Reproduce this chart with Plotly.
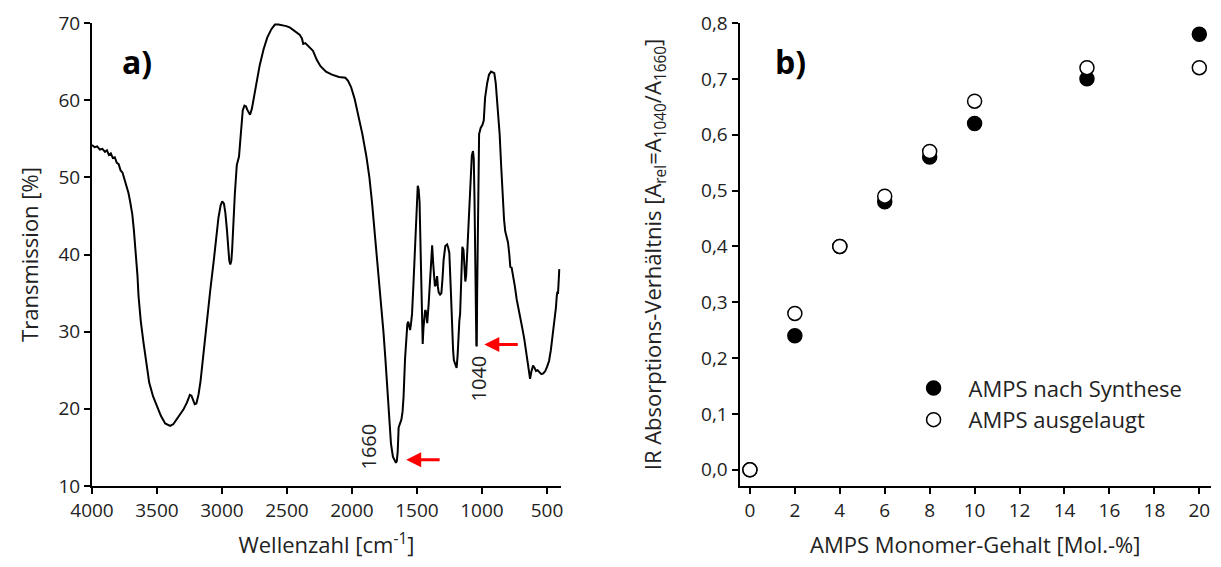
import plotly.graph_objects as go

# ---------------- data: panel a) IR spectrum ----------------
wavenumber = [4000, 3980, 3960, 3940, 3920, 3900, 3885, 3870, 3855, 3840, 3825, 3810, 3795,
              3780, 3765, 3751, 3735, 3720, 3707, 3690, 3678, 3663, 3650, 3642, 3625, 3604,
              3580, 3560, 3530, 3502, 3470, 3437, 3418, 3399, 3375, 3355, 3325, 3297, 3270,
              3247, 3235, 3223, 3210, 3197, 3180, 3165, 3140, 3121, 3090, 3062, 3040, 3027,
              3010, 2998, 2985, 2974, 2962, 2954, 2944, 2936, 2928, 2922, 2912, 2901, 2886,
              2875, 2869, 2860, 2851, 2840, 2827, 2815, 2807, 2795, 2784, 2770, 2755, 2730,
              2710, 2680, 2652, 2620, 2593, 2565, 2535, 2505, 2476, 2440, 2403, 2385, 2375,
              2359, 2330, 2300, 2270, 2242, 2200, 2154, 2100, 2051, 2030, 2007, 1980, 1949,
              1920, 1890, 1866, 1846, 1823, 1802, 1780, 1758, 1743, 1729, 1714, 1700, 1685,
              1670, 1662, 1655, 1648, 1641, 1630, 1620, 1611, 1603, 1592, 1582, 1574, 1567,
              1560, 1553, 1546, 1538, 1527, 1515, 1504, 1494, 1487, 1480, 1472, 1465, 1460,
              1456, 1450, 1444, 1438, 1433, 1427, 1421, 1410, 1400, 1392, 1383, 1375, 1368,
              1362, 1356, 1350, 1345, 1339, 1333, 1322, 1312, 1303, 1295, 1282, 1268, 1260,
              1251, 1240, 1231, 1222, 1216, 1205, 1195, 1187, 1180, 1174, 1168, 1160, 1151,
              1142, 1133, 1128, 1122, 1113, 1104, 1095, 1087, 1078, 1069, 1063, 1057, 1052,
              1048, 1043, 1040, 1037, 1030, 1022, 1010, 996, 986, 976, 960, 946, 930, 917,
              905, 894, 880, 864, 852, 841, 830, 821, 810, 800, 790, 782, 772, 762, 748, 733,
              710, 689, 674, 659, 645, 630, 620, 612, 607, 595, 585, 572, 558, 543, 528, 513,
              498, 484, 470, 455, 443, 431, 425, 420, 415, 410, 405]
transmission = [54.2, 53.9, 54.0, 53.6, 53.7, 53.3, 53.5, 52.9, 53.1, 52.5, 52.6, 51.9, 51.7,
                50.9, 50.6, 49.8, 49.0, 48.0, 46.9, 45.2, 43.2, 40.4, 37.2, 34.6, 31.4, 28.6,
                25.4, 23.4, 21.6, 20.5, 19.1, 18.1, 17.9, 17.8, 18.0, 18.5, 19.1, 19.9, 20.8,
                21.8, 21.7, 21.1, 20.6, 20.7, 21.9, 23.6, 27.6, 31.0, 35.4, 39.4, 42.6, 44.8,
                46.4, 46.9, 46.6, 45.4, 43.2, 40.9, 39.2, 38.7, 39.2, 40.6, 44.4, 47.9, 51.6,
                52.5, 52.7, 54.6, 57.0, 58.7, 59.3, 59.2, 58.8, 58.3, 58.1, 58.9, 60.3, 62.6,
                64.5, 66.6, 68.1, 69.2, 69.8, 69.8, 69.7, 69.6, 69.4, 69.0, 68.5, 68.0, 67.3,
                67.4, 66.9, 66.4, 65.2, 64.4, 63.7, 63.3, 63.0, 62.9, 62.5, 61.7, 60.2, 58.0,
                55.6, 52.8, 50.0, 46.8, 42.6, 38.4, 34.2, 30.0, 26.5, 23.0, 19.0, 15.5, 13.8,
                13.1, 13.0, 13.2, 14.5, 17.6, 18.3, 18.6, 19.6, 21.6, 26.4, 30.0, 31.0, 31.3,
                30.6, 30.2, 31.0, 32.3, 36.2, 41.2, 46.0, 48.9, 48.4, 46.8, 40.6, 35.6, 31.0,
                28.4, 30.5, 32.5, 32.7, 32.8, 31.8, 31.1, 33.6, 36.5, 39.2, 41.2, 38.8, 37.0,
                35.9, 36.0, 37.1, 37.2, 35.8, 35.1, 34.8, 35.0, 37.0, 39.3, 41.1, 41.3, 40.9,
                40.2, 35.6, 30.9, 27.6, 26.3, 25.8, 25.3, 27.0, 30.0, 31.4, 32.3, 37.2, 41.0,
                40.6, 38.4, 36.5, 37.2, 40.5, 44.0, 47.2, 50.0, 52.8, 53.4, 52.4, 46.8, 40.0,
                32.0, 28.1, 28.2, 35.0, 48.0, 55.6, 56.4, 56.8, 57.4, 60.3, 62.2, 63.3, 63.7,
                63.6, 63.5, 62.2, 59.5, 55.6, 51.4, 47.2, 44.5, 43.0, 42.2, 41.6, 40.1, 38.4,
                38.3, 37.5, 36.0, 34.2, 32.4, 30.4, 29.0, 27.2, 25.5, 23.9, 24.8, 25.4, 25.6,
                25.3, 24.9, 25.0, 24.7, 24.5, 24.6, 24.9, 25.5, 26.2, 27.6, 29.5, 31.0, 33.1,
                34.5, 35.2, 34.9, 36.5, 38.1]

# annotation points (wavenumber, transmission)
peak_labels = ["1660", "1040"]
peak_label_wn = [1870, 1025]
peak_label_t = [15.1, 23.9]
arrow_head_wn = [1583, 982]
arrow_tail_wn = [1314, 713]
arrow_t = [13.4, 28.35]

ticks_a_x = [4000, 3500, 3000, 2500, 2000, 1500, 1000, 500]
ticks_a_y = [10, 20, 30, 40, 50, 60, 70]

# ---------------- data: panel b) absorption ratio ----------------
amps_content = [0, 2, 4, 6, 8, 10, 15, 20]
ratio_synthesis = [0.0, 0.24, 0.40, 0.48, 0.56, 0.62, 0.70, 0.78]
ratio_leached = [0.0, 0.28, 0.40, 0.49, 0.57, 0.66, 0.72, 0.72]
ticks_b_x = [0, 2, 4, 6, 8, 10, 12, 14, 16, 18, 20]
ticks_b_y = [0.0, 0.1, 0.2, 0.3, 0.4, 0.5, 0.6, 0.7, 0.8]

FONT = "Open Sans"
TXT = "#222222"

fig = go.Figure()
fig.add_trace(go.Scatter(x=wavenumber, y=transmission, mode="lines",
                         line=dict(color="black", width=2), showlegend=False,
                         xaxis="x", yaxis="y"))
fig.add_trace(go.Scatter(x=amps_content, y=ratio_synthesis, mode="markers",
                         name="AMPS nach Synthese",
                         marker=dict(symbol="circle", size=14, color="black",
                                     line=dict(color="black", width=1.5)),
                         xaxis="x2", yaxis="y2"))
fig.add_trace(go.Scatter(x=amps_content, y=ratio_leached, mode="markers",
                         name="AMPS ausgelaugt",
                         marker=dict(symbol="circle", size=14, color="white",
                                     line=dict(color="black", width=1.5)),
                         xaxis="x2", yaxis="y2"))

axis_common = dict(showline=True, linecolor="black", linewidth=2, ticks="outside",
                   ticklen=6, tickwidth=1.5, tickcolor="black", showgrid=False,
                   zeroline=False, tickfont=dict(family=FONT, size=19, color=TXT),
                   title_font=dict(family=FONT, size=22, color=TXT))

fig.update_layout(
    width=1205, height=551,
    margin=dict(l=84, r=0, t=15, b=72),
    paper_bgcolor="white", plot_bgcolor="white",
    separators=", ",
    font=dict(family=FONT, color=TXT),
    xaxis=dict(domain=[0, 0.419], range=[4000, 393], tickvals=ticks_a_x,
               title=dict(text="Wellenzahl [cm<sup>-1</sup>]", standoff=21), **axis_common),
    yaxis=dict(domain=[0, 1], range=[10, 70], tickvals=ticks_a_y, anchor="x",
               title=dict(text="Transmission [%]", standoff=14), **axis_common),
    xaxis2=dict(domain=[0.5787, 1], range=[-0.46, 20.52], tickvals=ticks_b_x, anchor="y2",
                title=dict(text="AMPS Monomer-Gehalt [Mol.-%]", standoff=21), **axis_common),
    yaxis2=dict(domain=[0, 1], range=[-0.029, 0.8], tickvals=ticks_b_y, tickformat=".1f",
                anchor="x2",
                title=dict(text="IR Absorptions-Verhältnis [A<sub>rel</sub>=A<sub>1040</sub>/A<sub>1660</sub>]",
                           standoff=33), **axis_common),
    legend=dict(x=0.7208, y=0.2565, xanchor="left", yanchor="top", itemwidth=60,
                font=dict(family=FONT, size=22, color=TXT), bgcolor="rgba(0,0,0,0)"),
)

# panel letters
fig.add_annotation(text="<b>a)</b>", xref="paper", yref="paper", x=0.0401, y=0.916,
                   xanchor="center", yanchor="middle",
                   showarrow=False, font=dict(family=FONT, size=32, color="black"))
fig.add_annotation(text="<b>b)</b>", xref="paper", yref="paper", x=0.6245, y=0.916,
                   xanchor="center", yanchor="middle",
                   showarrow=False, font=dict(family=FONT, size=32, color="black"))

# peak labels and red arrows
for lab, lx, ly, hx, tx, ay in zip(peak_labels, peak_label_wn, peak_label_t,
                                   arrow_head_wn, arrow_tail_wn, arrow_t):
    fig.add_annotation(text=lab, x=lx, y=ly, xref="x", yref="y", showarrow=False,
                       textangle=-90, xanchor="center", yanchor="middle",
                       font=dict(family=FONT, size=20, color=TXT))
    fig.add_annotation(text="", x=hx, y=ay, ax=tx, ay=ay, xref="x", yref="y",
                       axref="x", ayref="y", showarrow=True, arrowhead=2,
                       arrowsize=1, arrowwidth=3, arrowcolor="#ff0000", standoff=0)

fig.write_html("out.html")
